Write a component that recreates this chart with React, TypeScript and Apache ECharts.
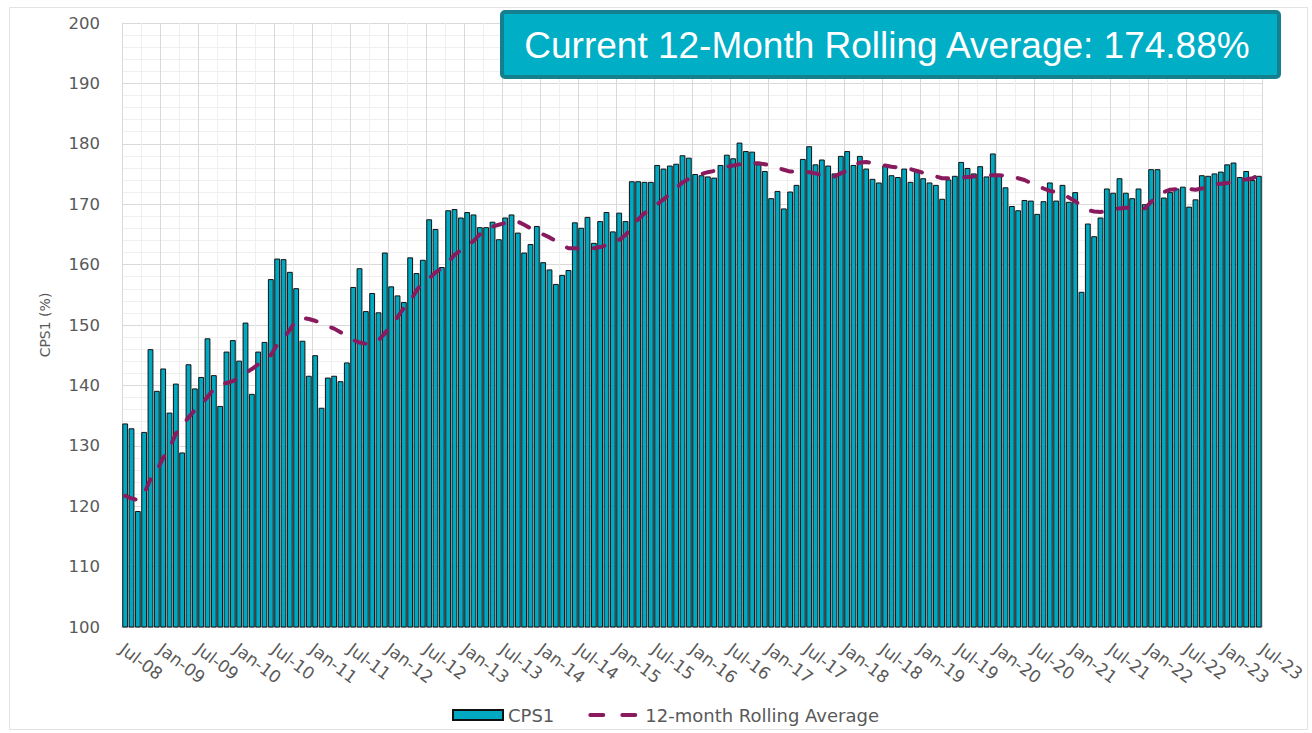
import React, { useEffect, useRef } from "react";
import * as echarts from "echarts";

// Tick labels on the date axis (every 6 months, at month boundaries)
const tickLabels = [
  "Jul-08", "Jan-09", "Jul-09", "Jan-10", "Jul-10", "Jan-11", "Jul-11", "Jan-12",
  "Jul-12", "Jan-13", "Jul-13", "Jan-14", "Jul-14", "Jan-15", "Jul-15", "Jan-16",
  "Jul-16", "Jan-17", "Jul-17", "Jan-18", "Jul-18", "Jan-19", "Jul-19", "Jan-20",
  "Jul-20", "Jan-21", "Jul-21", "Jan-22", "Jul-22", "Jan-23", "Jul-23",
];

// Monthly categories Jul-08 .. Jun-23
const monthNames = ["Jan", "Feb", "Mar", "Apr", "May", "Jun", "Jul", "Aug", "Sep", "Oct", "Nov", "Dec"];
const categories: string[] = [];
for (let y = 2008, m = 6; categories.length < 180; ) {
  categories.push(monthNames[m] + "-" + String(y % 100).padStart(2, "0"));
  m++;
  if (m === 12) { m = 0; y++; }
}

// CPS1 (%) monthly values, Jul-08 .. Jun-23
const cps1 = [
  // Jul-08 .. Jun-09
  133.7, 132.9, 119.2, 132.3, 146.0, 139.1, 142.8, 135.5, 140.3, 128.9, 143.5, 139.5,
  // Jul-09 .. Jun-10
  141.4, 147.8, 141.7, 136.6, 145.6, 147.5, 144.1, 150.4, 138.6, 145.6, 147.2, 157.6,
  // Jul-10 .. Jun-11
  161.0, 160.9, 158.8, 156.1, 147.4, 141.6, 145.0, 136.3, 141.3, 141.6, 140.7, 143.8,
  // Jul-11 .. Jun-12
  156.3, 159.4, 152.3, 155.3, 152.1, 162.0, 156.4, 154.9, 153.8, 161.2, 158.6, 160.8,
  // Jul-12 .. Jun-13
  167.5, 165.9, 159.6, 169.0, 169.2, 167.8, 168.7, 168.3, 166.2, 166.2, 167.1, 164.2,
  // Jul-13 .. Jun-14
  167.8, 168.3, 165.3, 162.0, 163.4, 166.4, 160.4, 159.2, 156.8, 158.3, 159.1, 167.0,
  // Jul-14 .. Jun-15
  166.1, 167.9, 163.6, 167.2, 168.7, 165.5, 168.6, 167.2, 173.8, 173.8, 173.7, 173.7,
  // Jul-15 .. Jun-16
  176.5, 175.9, 176.4, 176.7, 178.1, 177.7, 175.0, 174.8, 174.6, 174.4, 176.5, 178.2,
  // Jul-16 .. Jun-17
  177.6, 180.2, 178.8, 178.7, 176.6, 175.5, 171.0, 172.2, 169.3, 172.1, 173.2, 177.5,
  // Jul-17 .. Jun-18
  179.6, 176.6, 177.4, 176.4, 175.1, 178.0, 178.8, 176.5, 178.0, 175.9, 174.2, 173.6,
  // Jul-18 .. Jun-19
  176.4, 174.8, 174.5, 175.9, 173.7, 175.7, 174.3, 173.6, 173.2, 170.9, 174.1, 174.7,
  // Jul-19 .. Jun-20
  177.0, 176.0, 175.1, 176.3, 174.6, 178.4, 174.7, 172.8, 169.7, 169.0, 170.7, 170.6,
  // Jul-20 .. Jun-21
  168.4, 170.5, 173.6, 170.6, 173.2, 170.4, 172.0, 155.5, 166.8, 164.7, 167.8, 172.6,
  // Jul-21 .. Jun-22
  171.9, 174.3, 171.9, 171.0, 172.6, 170.0, 175.8, 175.8, 171.1, 172.0, 172.6, 172.9,
  // Jul-22 .. Jun-23
  169.6, 170.8, 174.8, 174.7, 175.1, 175.4, 176.6, 176.9, 174.5, 175.5, 174.0, 174.7,
];

// 12-month rolling average, Jul-08 .. Jun-23
const rollingAvg = [
  121.7, 121.3, 121.0, 122.1, 124.5, 125.9, 128.0, 129.6, 132.0, 133.3, 134.7, 135.9,
  136.8, 138.1, 139.4, 140.1, 140.4, 140.7, 141.3, 142.1, 142.7, 143.5, 144.1, 145.0,
  146.8, 147.8, 149.2, 150.8, 151.2, 151.0, 150.7, 150.3, 149.8, 149.4, 148.8, 148.2,
  147.5, 147.1, 146.9, 146.9, 147.5, 148.6, 150.0, 151.3, 152.8, 153.9, 155.7, 157.1,
  157.7, 158.7, 159.4, 160.4, 161.6, 162.4, 163.1, 163.9, 165.0, 165.9, 166.3, 166.6,
  166.9, 167.2, 167.1, 166.6, 166.0, 165.6, 165.0, 164.5, 163.9, 163.2, 162.7, 162.7,
  162.6, 162.7, 162.7, 162.9, 163.2, 163.5, 164.1, 164.9, 166.2, 167.5, 168.5, 169.2,
  170.0, 170.8, 171.7, 172.7, 173.6, 174.2, 174.7, 175.0, 175.3, 175.5, 175.9, 176.2,
  176.4, 176.6, 176.8, 176.8, 176.8, 176.6, 176.4, 176.0, 175.7, 175.4, 175.4, 175.4,
  175.3, 175.1, 174.8, 174.7, 174.6, 175.1, 175.6, 176.3, 176.9, 177.0, 176.8, 176.6,
  176.4, 176.2, 176.1, 176.0, 175.8, 175.5, 175.2, 174.9, 174.6, 174.3, 174.3, 174.4,
  174.4, 174.5, 174.6, 174.7, 174.8, 174.8, 174.8, 174.7, 174.5, 174.3, 174.0, 173.5,
  173.1, 172.6, 172.2, 172.0, 171.7, 171.1, 170.5, 169.7, 169.0, 168.8, 168.7, 168.9,
  169.2, 169.3, 169.4, 169.4, 169.4, 169.3, 170.4, 171.5, 172.0, 172.4, 172.5, 172.6,
  172.5, 172.4, 172.6, 173.0, 173.3, 173.4, 173.5, 173.7, 174.0, 174.1, 174.3, 174.8,
];

const currentAverage = "174.88%";

export default function App() {
  const ref = useRef<HTMLDivElement>(null);

  useEffect(() => {
    if (!ref.current) return;
    const chart = echarts.init(ref.current, null, { renderer: "svg" });
    const textColor = "#595959";
    const majorGrid = "#d9d9d9";
    const minorGrid = "#efefef";
    const lineColor = "#8A1A5E";

    chart.setOption({
      animation: false,
      backgroundColor: "#ffffff",
      grid: {
        left: 122,
        right: 50,
        top: 23,
        bottom: 106,
        containLabel: false,
        outerBoundsMode: "none",
      },
      legend: {
        left: 447,
        top: 701,
        itemWidth: 50,
        itemHeight: 10,
        itemGap: 34,
        textStyle: { color: textColor, fontSize: 18, fontFamily: "DejaVu Sans" },
        data: [
          { name: "CPS1", icon: "rect" },
          {
            name: "12-month Rolling Average",
            itemStyle: { color: "rgba(0,0,0,0)", borderWidth: 0, opacity: 0 },
            lineStyle: { color: lineColor, width: 4, type: [13, 19], cap: "round" },
          },
        ],
      },
      xAxis: [
        {
          type: "category",
          data: categories,
          position: "bottom",
          boundaryGap: true,
          axisLine: { show: false },
          axisTick: { show: false },
          axisLabel: { show: false },
          splitLine: { show: false },
        },
        {
          type: "value",
          min: 0,
          max: 180,
          interval: 6,
          position: "bottom",
          axisLine: { show: true, lineStyle: { color: "#d0d0d0", width: 1.5 } },
          axisTick: { show: false },
          minorTick: { show: false, splitNumber: 2 },
          splitLine: { show: true, lineStyle: { color: majorGrid, width: 1 } },
          minorSplitLine: { show: true, lineStyle: { color: minorGrid, width: 1 } },
          axisLabel: {
            show: true,
            rotate: -37,
            margin: 20,
            color: textColor,
            fontSize: 17,
            fontFamily: "DejaVu Sans",
            showMinLabel: true,
            showMaxLabel: true,
            hideOverlap: false,
            formatter: (v: number) => tickLabels[Math.round(v / 6)] ?? "",
          },
        },
      ],
      yAxis: {
        type: "value",
        min: 100,
        max: 200,
        interval: 10,
        name: "CPS1 (%)",
        nameLocation: "middle",
        nameGap: 70,
        nameTextStyle: { color: textColor, fontSize: 14, fontFamily: "DejaVu Sans" },
        axisLine: { show: true, lineStyle: { color: majorGrid, width: 1 } },
        axisTick: { show: false },
        minorTick: { show: false, splitNumber: 5 },
        splitLine: { show: true, lineStyle: { color: majorGrid, width: 1 } },
        minorSplitLine: { show: true, lineStyle: { color: minorGrid, width: 1 } },
        axisLabel: {
          color: textColor,
          fontSize: 16.5,
          fontFamily: "DejaVu Sans",
          margin: 22,
        },
      },
      series: [
        {
          name: "CPS1",
          type: "bar",
          xAxisIndex: 0,
          data: cps1,
          barCategoryGap: "8%",
          itemStyle: { color: "#00A9C1", borderColor: "#111111", borderWidth: 1 },
          z: 2,
        },
        {
          name: "12-month Rolling Average",
          type: "line",
          xAxisIndex: 0,
          data: rollingAvg,
          symbol: "none",
          smooth: false,
          lineStyle: { color: lineColor, width: 4, type: [11, 16], cap: "round" },
          itemStyle: { color: lineColor },
          z: 3,
        },
      ],
      graphic: [
        {
          type: "rect",
          left: 7,
          top: 5,
          shape: { width: 1298, height: 722 },
          style: { fill: "none", stroke: "#e3e3e3", lineWidth: 1 },
          silent: true,
          z: -10,
        },
        {
          type: "rect",
          shape: { x: 502, y: 12, width: 777, height: 65, r: 3 },
          style: { fill: "#00AEC6", stroke: "#14808F", lineWidth: 4 },
          z: 100,
        },
        {
          type: "text",
          x: 887,
          y: 45,
          style: {
            text: "Current 12-Month Rolling Average: " + currentAverage,
            fill: "#ffffff",
            fontSize: 37,
            fontFamily: "Liberation Sans",
            align: "center",
            verticalAlign: "middle",
          },
          z: 101,
        },
      ],
    });

    return () => chart.dispose();
  }, []);

  return (
    <div
      ref={ref}
      style={{ position: "absolute", left: 0, top: 0, width: 1312, height: 733 }}
    />
  );
}
